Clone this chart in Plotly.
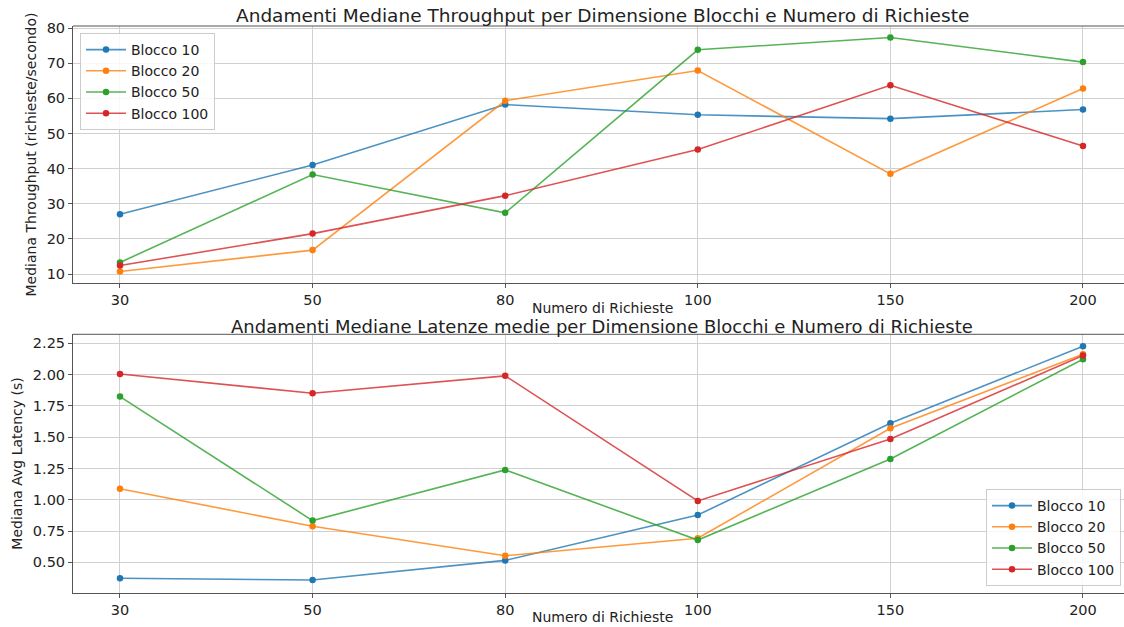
import plotly.graph_objects as go
from plotly.subplots import make_subplots

richieste = ["30", "50", "80", "100", "150", "200"]
blocchi = ["Blocco 10", "Blocco 20", "Blocco 50", "Blocco 100"]

throughput = {
    "Blocco 10": [27.0, 41.0, 58.2, 55.3, 54.2, 56.8],
    "Blocco 20": [10.7, 16.8, 59.3, 67.9, 38.5, 62.8],
    "Blocco 50": [13.3, 38.3, 27.4, 73.8, 77.3, 70.3],
    "Blocco 100": [12.4, 21.5, 32.3, 45.4, 63.7, 46.4],
}
latency = {
    "Blocco 10": [0.372, 0.359, 0.515, 0.878, 1.611, 2.227],
    "Blocco 20": [1.088, 0.788, 0.552, 0.692, 1.571, 2.163],
    "Blocco 50": [1.824, 0.833, 1.238, 0.678, 1.326, 2.123],
    "Blocco 100": [2.005, 1.851, 1.99, 0.99, 1.486, 2.152],
}

colors = ["#1f77b4", "#ff7f0e", "#2ca02c", "#d62728"]
line_rgba = ["rgba(31,119,180,0.8)", "rgba(255,127,14,0.8)", "rgba(44,160,44,0.8)", "rgba(214,39,40,0.8)"]

W, H = 1124, 627
def py(p):
    return 1 - p / H

fig = make_subplots(rows=2, cols=1)

for i, b in enumerate(blocchi):
    fig.add_trace(go.Scatter(x=richieste, y=throughput[b], name=b, mode="lines+markers",
                             line=dict(color=line_rgba[i], width=1.6),
                             marker=dict(color=colors[i], size=6.5),
                             legend="legend"), row=1, col=1)
    fig.add_trace(go.Scatter(x=richieste, y=latency[b], name=b, mode="lines+markers",
                             line=dict(color=line_rgba[i], width=1.6),
                             marker=dict(color=colors[i], size=6.5),
                             legend="legend2"), row=2, col=1)

font = "DejaVu Sans, Liberation Sans, sans-serif"
axis_common = dict(showline=True, linecolor="#555", linewidth=1, mirror=False,
                   ticks="outside", ticklen=4, tickcolor="#555", automargin=False,
                   showgrid=True, gridcolor="#d0d0d0", gridwidth=1,
                   zeroline=False, tickfont=dict(size=14.5, color="#222", family=font))

x0 = 73 / W
xc = (73 + 1131) / 2 / W
fig.update_layout(
    width=W, height=H, margin=dict(l=0, r=0, t=0, b=0, autoexpand=False),
    paper_bgcolor="white", plot_bgcolor="white",
    font=dict(family=font, color="#222"),
    showlegend=True,
    xaxis=dict(domain=[x0, 1], range=[-0.244, 5.213], type="category", **axis_common),
    yaxis=dict(domain=[py(283), py(26)], range=[7.44, 80.57], tickvals=[10, 20, 30, 40, 50, 60, 70, 80],
               title=dict(text="Mediana Throughput (richieste/secondo)", font=dict(size=14), standoff=6), **axis_common),
    xaxis2=dict(domain=[x0, 1], range=[-0.244, 5.213], type="category", **axis_common),
    yaxis2=dict(domain=[py(592.7), py(334.3)], range=[0.257, 2.322],
                tickvals=[0.5, 0.75, 1.0, 1.25, 1.5, 1.75, 2.0, 2.25],
                ticktext=["0.50", "0.75", "1.00", "1.25", "1.50", "1.75", "2.00", "2.25"],
                title=dict(text="Mediana Avg Latency (s)", font=dict(size=14), standoff=6), **axis_common),
    legend=dict(x=80 / W, y=py(33), xanchor="left", yanchor="top",
                bgcolor="rgba(255,255,255,0.85)", bordercolor="#cccccc", borderwidth=1,
                font=dict(size=14, family=font), itemwidth=40, tracegroupgap=0),
    legend2=dict(x=1121 / W, y=py(586), xanchor="right", yanchor="bottom",
                 bgcolor="rgba(255,255,255,0.85)", bordercolor="#cccccc", borderwidth=1,
                 font=dict(size=14, family=font), itemwidth=40, tracegroupgap=0),
    annotations=[
        dict(text="Andamenti Mediane Throughput per Dimensione Blocchi e Numero di Richieste",
             x=xc, y=py(15), xref="paper", yref="paper", showarrow=False,
             xanchor="center", yanchor="middle", font=dict(size=18.5, family=font, color="#222")),
        dict(text="Andamenti Mediane Latenze medie per Dimensione Blocchi e Numero di Richieste",
             x=xc, y=py(327), xref="paper", yref="paper", showarrow=False,
             xanchor="center", yanchor="middle", font=dict(size=18, family=font, color="#222")),
        dict(text="Numero di Richieste", x=xc, y=py(308), xref="paper", yref="paper", showarrow=False,
             xanchor="center", yanchor="middle", font=dict(size=14, family=font, color="#222")),
        dict(text="Numero di Richieste", x=xc, y=py(617), xref="paper", yref="paper", showarrow=False,
             xanchor="center", yanchor="middle", font=dict(size=14, family=font, color="#222")),
    ],
)

fig.add_shape(type="line", xref="paper", yref="paper", x0=x0, x1=1, y0=py(26), y1=py(26),
              line=dict(color="#555", width=1))
fig.add_shape(type="line", xref="paper", yref="paper", x0=x0, x1=1, y0=py(334.3), y1=py(334.3),
              line=dict(color="#555", width=1))

fig.write_html("out.html", config={"displayModeBar": False},
               post_script="document.body.style.margin='0';document.body.style.overflow='hidden';")
